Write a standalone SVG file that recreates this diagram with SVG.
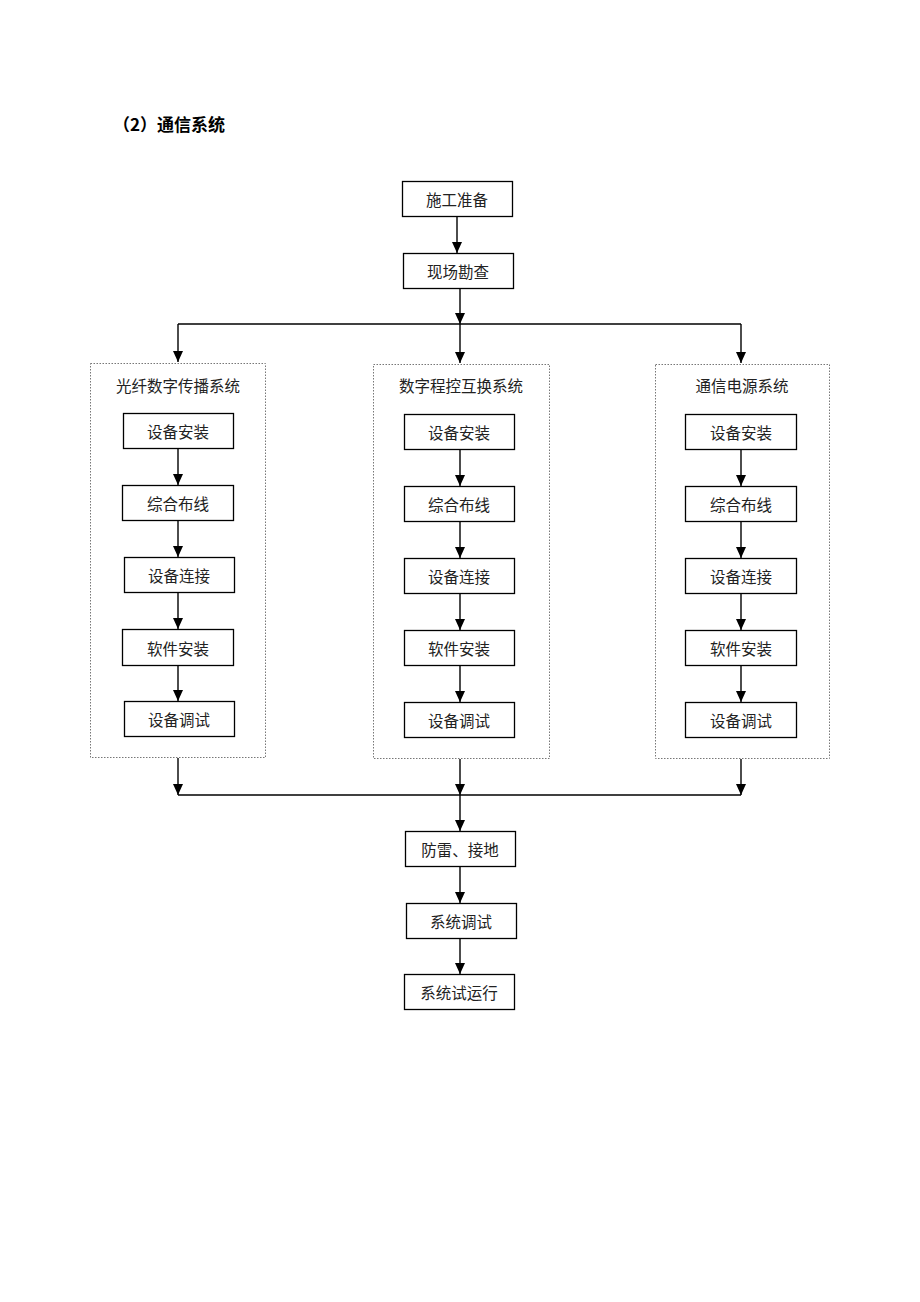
<svg xmlns="http://www.w3.org/2000/svg" width="920" height="1302" viewBox="0 0 920 1302">
<defs>
<marker id="ad" markerWidth="10" markerHeight="11" refX="5" refY="11" orient="0" markerUnits="userSpaceOnUse" viewBox="0 0 10 11">
<path d="M0,0 L10,0 L5,11 Z" fill="#000"/>
</marker>
</defs>
<style>
.b{fill:#fff;stroke:#000;stroke-width:1.3}
.c{fill:none;stroke:#777;stroke-width:1;stroke-dasharray:1.5,1.5}
.t{font-family:"Noto Sans CJK SC","Noto Sans CJK JP",sans-serif;font-size:15.5px;fill:#222;text-anchor:middle;dominant-baseline:central}
.h{font-family:"Noto Sans CJK SC",sans-serif;font-size:17px;font-weight:bold;fill:#000}
.l{stroke:#000;stroke-width:1.4;fill:none}
.a{stroke:#000;stroke-width:1.4;fill:none;marker-end:url(#ad)}
</style>
<rect width="920" height="1302" fill="#fff"/>
<text class="h" x="113" y="131">（2）通信系统</text>

<g id="containers">
<rect id="c1" class="c" x="90.5" y="363.5" width="175" height="394"/>
<rect id="c2" class="c" x="373.5" y="364.5" width="176" height="394"/>
<rect id="c3" class="c" x="655.5" y="364.5" width="174" height="394"/>
<text class="t" x="178" y="385">光纤数字传播系统</text>
<text class="t" x="461" y="385">数字程控互换系统</text>
<text class="t" x="742" y="385">通信电源系统</text>
</g>

<g id="connectors">
<line class="a" x1="457" y1="216" x2="457" y2="253"/>
<line class="a" x1="460" y1="288" x2="460" y2="324"/>
<line class="l" x1="178" y1="324" x2="741" y2="324"/>
<line class="a" x1="178" y1="324" x2="178" y2="362"/>
<line class="a" x1="460" y1="324" x2="460" y2="363"/>
<line class="a" x1="741" y1="324" x2="741" y2="363"/>

<line class="a" x1="178" y1="448" x2="178" y2="485"/>
<line class="a" x1="178" y1="520" x2="178" y2="557"/>
<line class="a" x1="178" y1="592" x2="178" y2="629"/>
<line class="a" x1="178" y1="665" x2="178" y2="701"/>

<line class="a" x1="460" y1="449" x2="460" y2="486"/>
<line class="a" x1="460" y1="521" x2="460" y2="558"/>
<line class="a" x1="460" y1="593" x2="460" y2="630"/>
<line class="a" x1="460" y1="665" x2="460" y2="702"/>

<line class="a" x1="741" y1="449" x2="741" y2="486"/>
<line class="a" x1="741" y1="521" x2="741" y2="558"/>
<line class="a" x1="741" y1="593" x2="741" y2="630"/>
<line class="a" x1="741" y1="665" x2="741" y2="702"/>

<line class="a" x1="178" y1="758" x2="178" y2="795"/>
<line class="a" x1="460" y1="759" x2="460" y2="795"/>
<line class="a" x1="741" y1="759" x2="741" y2="795"/>
<line class="l" x1="178" y1="795" x2="741" y2="795"/>
<line class="a" x1="460" y1="795" x2="460" y2="831"/>
<line class="a" x1="460" y1="866" x2="460" y2="903"/>
<line class="a" x1="460" y1="938" x2="460" y2="974"/>
</g>

<g id="n1"><rect class="b" x="402.5" y="181.5" width="110" height="35"/><text class="t" x="457" y="199">施工准备</text></g>
<g id="n2"><rect class="b" x="403.5" y="253.5" width="110" height="35"/><text class="t" x="458" y="271">现场勘查</text></g>

<g id="l1"><rect class="b" x="123.5" y="413.5" width="110" height="35"/><text class="t" x="178" y="431">设备安装</text></g>
<g id="l2"><rect class="b" x="122.5" y="485.5" width="111" height="35"/><text class="t" x="178" y="503">综合布线</text></g>
<g id="l3"><rect class="b" x="124.5" y="557.5" width="110" height="35"/><text class="t" x="179" y="575">设备连接</text></g>
<g id="l4"><rect class="b" x="122.5" y="629.5" width="111" height="36"/><text class="t" x="178" y="648">软件安装</text></g>
<g id="l5"><rect class="b" x="124.5" y="701.5" width="110" height="35"/><text class="t" x="179" y="719">设备调试</text></g>

<g id="m1"><rect class="b" x="404.5" y="414.5" width="110" height="35"/><text class="t" x="459" y="432">设备安装</text></g>
<g id="m2"><rect class="b" x="404.5" y="486.5" width="110" height="35"/><text class="t" x="459" y="504">综合布线</text></g>
<g id="m3"><rect class="b" x="404.5" y="558.5" width="110" height="35"/><text class="t" x="459" y="576">设备连接</text></g>
<g id="m4"><rect class="b" x="404.5" y="630.5" width="110" height="35"/><text class="t" x="459" y="648">软件安装</text></g>
<g id="m5"><rect class="b" x="404.5" y="702.5" width="110" height="35"/><text class="t" x="459" y="720">设备调试</text></g>

<g id="r1"><rect class="b" x="685.5" y="414.5" width="111" height="35"/><text class="t" x="741" y="432">设备安装</text></g>
<g id="r2"><rect class="b" x="685.5" y="486.5" width="111" height="35"/><text class="t" x="741" y="504">综合布线</text></g>
<g id="r3"><rect class="b" x="685.5" y="558.5" width="111" height="35"/><text class="t" x="741" y="576">设备连接</text></g>
<g id="r4"><rect class="b" x="685.5" y="630.5" width="111" height="35"/><text class="t" x="741" y="648">软件安装</text></g>
<g id="r5"><rect class="b" x="685.5" y="702.5" width="111" height="35"/><text class="t" x="741" y="720">设备调试</text></g>

<g id="b1"><rect class="b" x="405.5" y="831.5" width="110" height="35"/><text class="t" x="460" y="849">防雷、接地</text></g>
<g id="b2"><rect class="b" x="406.5" y="903.5" width="110" height="35"/><text class="t" x="461" y="921">系统调试</text></g>
<g id="b3"><rect class="b" x="404.5" y="974.5" width="110" height="35"/><text class="t" x="459" y="992">系统试运行</text></g>
</svg>
